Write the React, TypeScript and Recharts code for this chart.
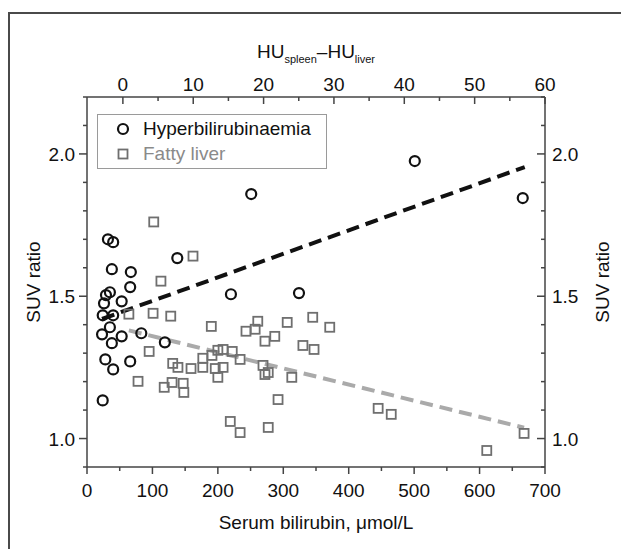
import { Legend, Scatter, ScatterChart, XAxis, YAxis } from "recharts"

// serum bilirubin (µmol/L) vs SUV ratio
const hyperbilirubinaemia = [
  { x: 32, y: 1.70 }, { x: 40, y: 1.69 }, { x: 38, y: 1.595 }, { x: 67, y: 1.585 },
  { x: 138, y: 1.634 }, { x: 35, y: 1.514 }, { x: 29, y: 1.504 }, { x: 26, y: 1.475 },
  { x: 53, y: 1.482 }, { x: 66, y: 1.532 }, { x: 24, y: 1.433 }, { x: 40, y: 1.433 },
  { x: 35, y: 1.391 }, { x: 23, y: 1.366 }, { x: 53, y: 1.359 }, { x: 38, y: 1.335 },
  { x: 83, y: 1.37 }, { x: 119, y: 1.338 }, { x: 28, y: 1.278 }, { x: 40, y: 1.243 },
  { x: 66, y: 1.271 }, { x: 24, y: 1.134 }, { x: 251, y: 1.859 }, { x: 501, y: 1.975 },
  { x: 666, y: 1.845 }, { x: 220, y: 1.507 }, { x: 324, y: 1.511 },
]

const fattyLiver = [
  { x: 102, y: 1.761 }, { x: 162, y: 1.641 }, { x: 113, y: 1.553 }, { x: 64, y: 1.437 },
  { x: 101, y: 1.44 }, { x: 128, y: 1.43 }, { x: 95, y: 1.306 }, { x: 78, y: 1.201 },
  { x: 131, y: 1.264 }, { x: 139, y: 1.25 }, { x: 159, y: 1.246 }, { x: 118, y: 1.18 },
  { x: 130, y: 1.197 }, { x: 147, y: 1.194 }, { x: 148, y: 1.162 }, { x: 190, y: 1.394 },
  { x: 243, y: 1.377 }, { x: 257, y: 1.384 }, { x: 261, y: 1.412 }, { x: 306, y: 1.408 },
  { x: 345, y: 1.426 }, { x: 371, y: 1.391 }, { x: 272, y: 1.342 }, { x: 287, y: 1.359 },
  { x: 330, y: 1.327 }, { x: 347, y: 1.313 }, { x: 177, y: 1.282 }, { x: 177, y: 1.25 },
  { x: 191, y: 1.292 }, { x: 200, y: 1.31 }, { x: 208, y: 1.313 }, { x: 222, y: 1.306 },
  { x: 234, y: 1.278 }, { x: 196, y: 1.246 }, { x: 208, y: 1.25 }, { x: 200, y: 1.215 },
  { x: 269, y: 1.257 }, { x: 272, y: 1.225 }, { x: 277, y: 1.232 }, { x: 313, y: 1.215 },
  { x: 292, y: 1.137 }, { x: 219, y: 1.06 }, { x: 234, y: 1.021 }, { x: 277, y: 1.039 },
  { x: 445, y: 1.106 }, { x: 465, y: 1.085 }, { x: 611, y: 0.958 }, { x: 668, y: 1.018 },
]

// regression lines, end points
const hyperFit = [{ x: 23, y: 1.42 }, { x: 669, y: 1.954 }]
const fattyFit = [{ x: 64, y: 1.38 }, { x: 668, y: 1.038 }]

const xTicks = [0, 50, 100, 150, 200, 250, 300, 350, 400, 450, 500, 550, 600, 650, 700]
const yTicks = [0.9, 1.0, 1.1, 1.2, 1.3, 1.4, 1.5, 1.6, 1.7, 1.8, 1.9, 2.0, 2.1, 2.2]

// top axis: HU(spleen) - HU(liver), its range laid over the bilirubin range
const huTicks = [0, 5, 10, 15, 20, 25, 30, 35, 40, 45, 50, 55, 60]
const huRange = [-5.1, 60]
const bilirubinRange = [0, 700]
const huToBili = (h: number) =>
  bilirubinRange[0] + ((h - huRange[0]) / (huRange[1] - huRange[0])) * (bilirubinRange[1] - bilirubinRange[0])
const biliToHu = (b: number) =>
  Math.round(huRange[0] + ((b - bilirubinRange[0]) / (bilirubinRange[1] - bilirubinRange[0])) * (huRange[1] - huRange[0]))

const FONT = "'Liberation Sans', Arial, Helvetica, sans-serif"
const AXIS = "#444"
const INK = "#111"
const GREY_MARK = "#6f6f6f"
const GREY_TEXT = "#8a8a8a"

const isMajorY = (v: number) => Math.abs(v * 2 - Math.round(v * 2)) < 1e-6

function BottomTick({ x, y, payload }: any) {
  const major = payload.value % 100 === 0
  return (
    <g>
      <line x1={x} y1={y} x2={x} y2={y + (major ? 7 : 4)} stroke={AXIS} strokeWidth={1.5} />
      {major && (
        <text x={x} y={y + 30} textAnchor="middle" fontSize={19} fill={INK} fontFamily={FONT}>
          {payload.value}
        </text>
      )}
    </g>
  )
}

function TopTick({ x, y, payload }: any) {
  const hu = biliToHu(payload.value)
  const major = hu % 10 === 0
  return (
    <g>
      <line x1={x} y1={y} x2={x} y2={y + (major ? 7 : 4)} stroke={AXIS} strokeWidth={1.5} />
      {major && (
        <text x={x} y={y - 6} textAnchor="middle" fontSize={19} fill={INK} fontFamily={FONT}>
          {hu}
        </text>
      )}
    </g>
  )
}

function LeftTick({ x, y, payload }: any) {
  const major = isMajorY(payload.value)
  return (
    <g>
      <line x1={x - (major ? 8 : 4)} y1={y} x2={x} y2={y} stroke={AXIS} strokeWidth={1.5} />
      {major && (
        <text x={x - 12} y={y + 7} textAnchor="end" fontSize={19} fill={INK} fontFamily={FONT}>
          {payload.value.toFixed(1)}
        </text>
      )}
    </g>
  )
}

function RightTick({ x, y, payload }: any) {
  const major = isMajorY(payload.value)
  return (
    <g>
      <line x1={x - (major ? 8 : 4)} y1={y} x2={x} y2={y} stroke={AXIS} strokeWidth={1.5} />
      {major && (
        <text x={x + 7} y={y + 7} textAnchor="start" fontSize={19} fill={INK} fontFamily={FONT}>
          {payload.value.toFixed(1)}
        </text>
      )}
    </g>
  )
}

function Ring({ cx, cy }: any) {
  return <circle cx={cx} cy={cy} r={5} fill="none" stroke={INK} strokeWidth={2.2} />
}

function Box({ cx, cy }: any) {
  return <rect x={cx - 4.5} y={cy - 4.5} width={9} height={9} fill="none" stroke={GREY_MARK} strokeWidth={1.8} />
}

const NoDot = () => <g />

function LegendBox() {
  const row = { position: "absolute" as const, left: 0, display: "flex", alignItems: "center", height: 20 }
  return (
    <div
      style={{
        width: 230,
        height: 55,
        boxSizing: "border-box",
        border: "1.5px solid #9a9a9a",
        background: "#fff",
        position: "relative",
        fontFamily: FONT,
        fontSize: 19,
      }}
    >
      <div style={{ ...row, top: 4 }}>
        <svg width={44} height={20}>
          <circle cx={25} cy={10} r={5} fill="none" stroke={INK} strokeWidth={2.2} />
        </svg>
        <span style={{ color: INK, marginLeft: 1 }}>Hyperbilirubinaemia</span>
      </div>
      <div style={{ ...row, top: 29 }}>
        <svg width={44} height={20}>
          <rect x={20.5} y={5.5} width={9} height={9} fill="none" stroke={GREY_MARK} strokeWidth={1.8} />
        </svg>
        <span style={{ color: GREY_TEXT, marginLeft: 1 }}>Fatty liver</span>
      </div>
    </div>
  )
}

const title = { position: "absolute" as const, fontFamily: FONT, fontSize: 19, color: INK, whiteSpace: "nowrap" as const, lineHeight: 1 }

export default function App() {
  return (
    <div style={{ position: "absolute", left: 0, top: 0, width: 621, height: 549, background: "#fff", overflow: "hidden" }}>
      <div
        style={{
          position: "absolute",
          left: 8,
          top: 12,
          width: 640,
          height: 560,
          borderTop: "2px solid #4a4a4a",
          borderLeft: "2px solid #4a4a4a",
        }}
      />
      <ScatterChart width={621} height={549} margin={{ top: 57, right: 16, bottom: 42, left: 27 }}>
        <XAxis
          dataKey="x"
          type="number"
          domain={bilirubinRange}
          ticks={xTicks}
          interval={0}
          height={40}
          tickSize={0}
          tickMargin={0}
          tick={<BottomTick />}
          axisLine={{ stroke: AXIS, strokeWidth: 1.5 }}
        />
        <XAxis
          xAxisId="top"
          dataKey="x"
          orientation="top"
          type="number"
          domain={bilirubinRange}
          allowDataOverflow
          ticks={huTicks.map(huToBili)}
          interval={0}
          height={40}
          tickSize={0}
          tickMargin={0}
          tick={<TopTick />}
          axisLine={{ stroke: AXIS, strokeWidth: 1.5 }}
        />
        <YAxis
          dataKey="y"
          type="number"
          domain={[0.9, 2.2]}
          ticks={yTicks}
          interval={0}
          width={60}
          tickSize={0}
          tickMargin={0}
          tick={<LeftTick />}
          axisLine={{ stroke: AXIS, strokeWidth: 1.5 }}
        />
        <YAxis
          yAxisId="right"
          dataKey="y"
          orientation="right"
          type="number"
          domain={[0.9, 2.2]}
          allowDataOverflow
          ticks={yTicks}
          interval={0}
          width={60}
          tickSize={0}
          tickMargin={0}
          tick={<RightTick />}
          axisLine={{ stroke: AXIS, strokeWidth: 1.5 }}
        />
        <Legend
          layout="vertical"
          align="center"
          verticalAlign="middle"
          wrapperStyle={{ top: 114, left: 97, width: 230, height: 55 }}
          content={() => <LegendBox />}
        />
        <Scatter
          name="hyper fit"
          xAxisId="top"
          yAxisId="right"
          data={hyperFit}
          shape={NoDot}
          line={{ stroke: INK, strokeWidth: 4, strokeDasharray: "13 7" }}
          isAnimationActive={false}
        />
        <Scatter
          name="fatty fit"
          data={fattyFit}
          shape={NoDot}
          line={{ stroke: "#aaaaaa", strokeWidth: 4, strokeDasharray: "13 7" }}
          isAnimationActive={false}
        />
        <Scatter name="Fatty liver" data={fattyLiver} shape={Box} isAnimationActive={false} />
        <Scatter name="Hyperbilirubinaemia" data={hyperbilirubinaemia} shape={Ring} isAnimationActive={false} />
      </ScatterChart>
      <div style={{ ...title, left: 316, top: 42, transform: "translateX(-50%)", lineHeight: "19px" }}>
        HU<span style={{ fontSize: 11, position: "relative", top: 5 }}>spleen</span>–HU
        <span style={{ fontSize: 11, position: "relative", top: 5 }}>liver</span>
      </div>
      <div style={{ ...title, left: 316, top: 522, transform: "translate(-50%, -50%)" }}>Serum bilirubin, μmol/L</div>
      <div style={{ ...title, left: 33, top: 282, transform: "translate(-50%, -50%) rotate(-90deg)" }}>SUV ratio</div>
      <div style={{ ...title, left: 602, top: 282, transform: "translate(-50%, -50%) rotate(-90deg)" }}>SUV ratio</div>
    </div>
  )
}
